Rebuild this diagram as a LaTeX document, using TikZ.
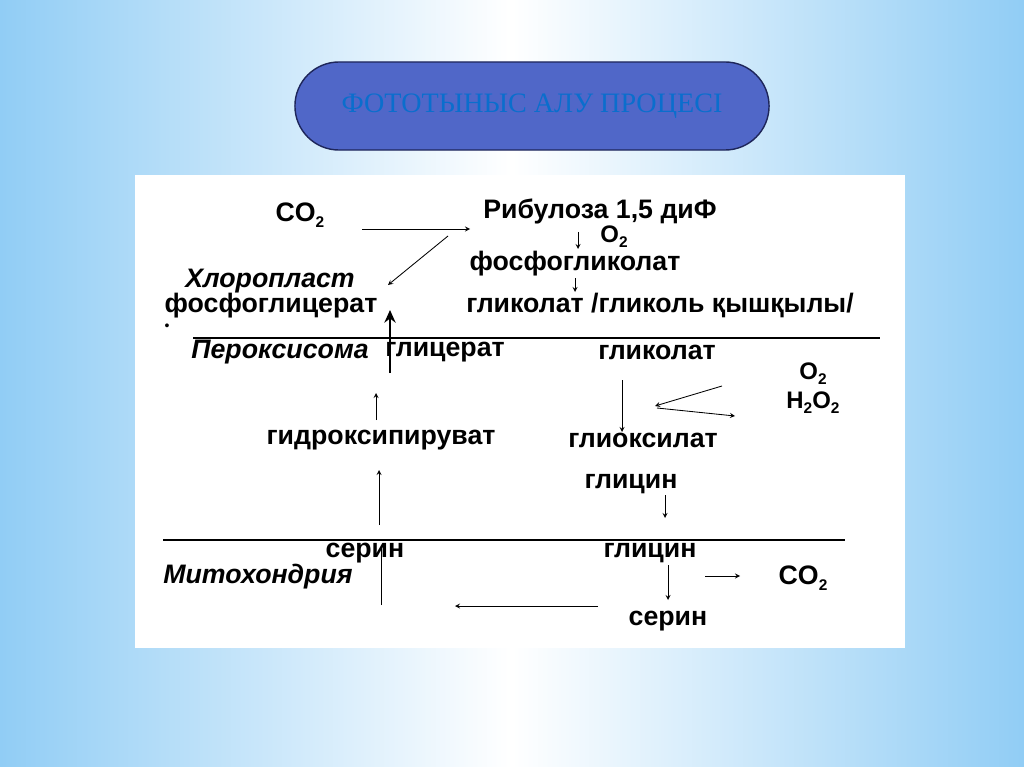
\documentclass[tikz,border=0pt]{standalone}
\usepackage{fontspec}
\setmainfont{Liberation Serif}
\newfontfamily\diagfont{Liberation Sans}
\usetikzlibrary{arrows.meta}

\definecolor{sfondo}{RGB}{145,205,245}
\definecolor{titolofill}{RGB}{80,103,200}
\definecolor{titolobordo}{RGB}{30,38,90}
\definecolor{titolotesto}{RGB}{10,110,205}

% pedice chimico
\newcommand{\pedice}[1]{\raisebox{-0.4ex}{\fontsize{11}{11}\selectfont #1}}

\begin{document}
\begin{tikzpicture}[
            x=0.025cm, y=-0.025cm,
            font=\diagfont\bfseries\fontsize{19}{22}\selectfont,
            % Stili
            testo/.style={inner sep=0.5pt},
            piccolo/.style={testo, font=\diagfont\bfseries\fontsize{17}{17}\selectfont},
            zona/.style={testo, font=\diagfont\bfseries\itshape\fontsize{19}{22}\selectfont},
            arrow/.style={line width=0.6pt,->,>=stealth},
            bigarrow/.style={line width=2pt,-{Stealth[length=9pt,width=8pt]}},
            membrana/.style={line width=1.2pt},
            titolo/.style={rectangle, rounded corners=1.1cm, minimum width=11.85cm, minimum height=2.2cm, draw=titolobordo, line width=1pt, fill=titolofill, text=titolotesto, font=\rmfamily\fontsize{20}{24}\selectfont}
        ]

        % Sfondo
        \useasboundingbox (0,0) rectangle (1024,767);
        \shade [left color=sfondo, right color=sfondo, middle color=white] (0,0) rectangle (1024,767);
        \fill [white] (135,175) rectangle (905,648);

        % Titolo
        \node (titolo) [titolo] at (532,106) {ФОТОТЫНЫС АЛУ ПРОЦЕСІ};

        % Cloroplasto
        \node (co2a) [testo] at (300,215) {CO\pedice{2}};
        \node (ribul) [testo] at (600,211) {Рибулоза 1,5 диФ};
        \node (o2a) [piccolo] at (614,237) {O\pedice{2}};
        \node (fosfogl) [testo] at (575,264) {фосфогликолат};
        \node (glik) [testo] at (660,305) {гликолат /гликоль қышқылы/};
        \node (chloro) [zona] at (270,281) {Хлоропласт};
        \node (fosfoglic) [testo] at (271,306) {фосфоглицерат};
        \node (punto) [testo, font=\diagfont\fontsize{10}{10}\selectfont] at (167,327) {•};

        % Perossisoma
        \node (perox) [zona] at (280,352) {Пероксисома};
        \node (glicer) [testo] at (445,352) {глицерат};
        \node (glik2) [testo] at (657,352) {гликолат};
        \node (gas) [piccolo, align=center] at (813,388) {O\pedice{2}\\[4pt]H\pedice{2}O\pedice{2}};
        \node (gidrox) [testo] at (381,440) {гидроксипируват};
        \node (glioks) [testo] at (643,440) {глиоксилат};
        \node (glicin1) [testo] at (631,484) {глицин};

        % Mitocondrio
        \node (serin1) [testo] at (365,553) {серин};
        \node (glicin2) [testo] at (650,553) {глицин};
        \node (mito) [zona] at (258,577) {Митохондрия};
        \node (co2b) [testo] at (803,578) {CO\pedice{2}};
        \node (serin2) [testo] at (668,621) {серин};

        % Punti
        \coordinate (p1) at (362,229);  \coordinate (p2) at (470,229);
        \coordinate (p3) at (448,236);  \coordinate (p4) at (388,285);
        \coordinate (p5) at (578,232);  \coordinate (p6) at (578,249);
        \coordinate (p7) at (575,278);  \coordinate (p8) at (575,292);
        \coordinate (p9) at (390,373);  \coordinate (p10) at (390,310);
        \coordinate (p11) at (722,386); \coordinate (p12) at (655,406);
        \coordinate (p13) at (657,408); \coordinate (p14) at (735,416);
        \coordinate (p15) at (622,380); \coordinate (p16) at (622,432);
        \coordinate (p17) at (376,420); \coordinate (p18) at (376,393);
        \coordinate (p19) at (379,525); \coordinate (p20) at (379,470);
        \coordinate (p21) at (665,495); \coordinate (p22) at (665,518);
        \coordinate (p23) at (381,605); \coordinate (p24) at (381,546);
        \coordinate (p25) at (598,606); \coordinate (p26) at (455,606);
        \coordinate (p27) at (668,565); \coordinate (p28) at (668,600);
        \coordinate (p29) at (705,576); \coordinate (p30) at (740,576);

        % Membrane
        \draw [membrana] (193,338) -- (880,338);
        \draw [membrana] (163,540) -- (845,540);

        % Collegamenti
        \draw [arrow] (p1) -- (p2);
        \draw [arrow] (p3) -- (p4);
        \draw [arrow] (p5) -- (p6);
        \draw [arrow] (p7) -- (p8);
        \draw [bigarrow] (p9) -- (p10);
        \draw [arrow] (p11) -- (p12);
        \draw [arrow] (p13) -- (p14);
        \draw [arrow] (p15) -- (p16);
        \draw [arrow] (p17) -- (p18);
        \draw [arrow] (p19) -- (p20);
        \draw [arrow] (p21) -- (p22);
        \draw [line width=0.6pt] (p23) -- (p24);
        \draw [arrow] (p25) -- (p26);
        \draw [arrow] (p27) -- (p28);
        \draw [arrow] (p29) -- (p30);

    \end{tikzpicture}
\end{document}
